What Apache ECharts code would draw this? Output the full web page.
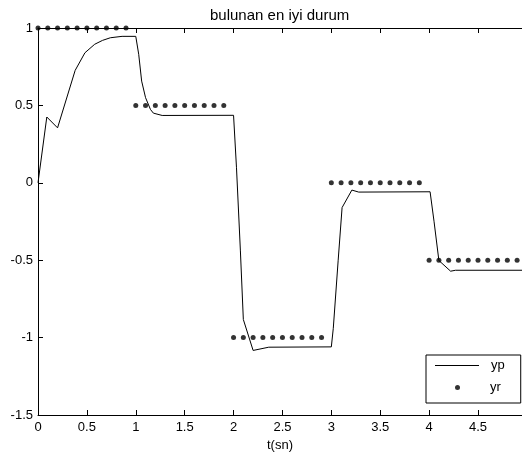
<!DOCTYPE html>
<html>
<head>
<meta charset="utf-8">
<script src="https://cdn.jsdelivr.net/npm/echarts@6/dist/echarts.min.js"></script>
<style>
  html, body { margin: 0; padding: 0; background: #fff; }
  #main { width: 522px; height: 459px; }
</style>
</head>
<body>
<div id="main"></div>
<script>
        // yp: plant output
        var ypTime = [0, 0.09, 0.2, 0.38, 0.48, 0.58, 0.66, 0.74, 0.86, 1.0,
            1.03, 1.06, 1.1, 1.15, 1.18, 1.27, 2.0,
            2.03, 2.07, 2.1, 2.2, 2.36, 3.0,
            3.02, 3.07, 3.11, 3.21, 3.28, 4.01,
            4.05, 4.1, 4.22, 4.27, 4.95];
        var ypValue = [0, 0.425, 0.355, 0.726, 0.84, 0.895, 0.92, 0.937, 0.946, 0.946,
            0.83, 0.657, 0.55, 0.474, 0.45, 0.435, 0.436,
            0.097, -0.44, -0.883, -1.083, -1.062, -1.06,
            -0.94, -0.5, -0.16, -0.047, -0.06, -0.058,
            -0.248, -0.502, -0.571, -0.565, -0.565];

        // yr: reference, one dot every 0.1 s
        var yrTime = [0, 0.1, 0.2, 0.3, 0.4, 0.5, 0.6, 0.7, 0.8, 0.9,
            1.0, 1.1, 1.2, 1.3, 1.4, 1.5, 1.6, 1.7, 1.8, 1.9,
            2.0, 2.1, 2.2, 2.3, 2.4, 2.5, 2.6, 2.7, 2.8, 2.9,
            3.0, 3.1, 3.2, 3.3, 3.4, 3.5, 3.6, 3.7, 3.8, 3.9,
            4.0, 4.1, 4.2, 4.3, 4.4, 4.5, 4.6, 4.7, 4.8, 4.9];
        var yrValue = [1, 1, 1, 1, 1, 1, 1, 1, 1, 1,
            0.5, 0.5, 0.5, 0.5, 0.5, 0.5, 0.5, 0.5, 0.5, 0.5,
            -1, -1, -1, -1, -1, -1, -1, -1, -1, -1,
            0, 0, 0, 0, 0, 0, 0, 0, 0, 0,
            -0.5, -0.5, -0.5, -0.5, -0.5, -0.5, -0.5, -0.5, -0.5, -0.5];

        var xTicks = [0, 0.5, 1, 1.5, 2, 2.5, 3, 3.5, 4, 4.5];
        var yTicks = [-1.5, -1, -0.5, 0, 0.5, 1];

        var titleText = 'bulunan en iyi durum';
        var xName = 't(sn)';

        function pairs(xs, ys) {
            return xs.map(function(x, i) { return [x, ys[i]]; });
        }

        var font = 'Arial, "Liberation Sans", sans-serif';
        var axisStyle = { color: '#000', width: 1 };

        var chart = echarts.init(document.getElementById('main'));
        chart.setOption({
            backgroundColor: '#fff',
            animation: false,
            title: {
                text: titleText,
                left: 205,
                top: 3,
                textStyle: { fontFamily: font, fontSize: 15, fontWeight: 'normal', color: '#000' }
            },
            grid: { left: 38, right: 0, top: 28, bottom: 44 },
            legend: [{
                // box + line entry
                data: ['yp'],
                left: 426,
                top: 355,
                orient: 'vertical',
                icon: 'rect',
                itemWidth: 44,
                itemHeight: 1,
                padding: [4, 16, 31, 9],
                borderColor: '#000',
                borderWidth: 1,
                borderRadius: 0,
                backgroundColor: '#fff',
                selectedMode: false,
                itemStyle: { borderWidth: 0 },
                textStyle: { fontFamily: font, fontSize: 13, color: '#000', padding: [0, 0, 0, 7] }
            }, {
                // dot entry, drawn inside the same box
                data: ['yr'],
                left: 426,
                top: 378,
                z: 10,
                orient: 'vertical',
                icon: 'circle',
                itemWidth: 5,
                itemHeight: 5,
                padding: [3, 16, 3, 29],
                selectedMode: false,
                itemStyle: { borderWidth: 0 },
                textStyle: { fontFamily: font, fontSize: 13, color: '#000', padding: [0, 0, 0, 25] }
            }],
            xAxis: [{
                type: 'value',
                position: 'bottom',
                min: 0,
                max: 4.95,
                interval: 0.5,
                name: xName,
                nameLocation: 'middle',
                nameGap: 22,
                nameTextStyle: { fontFamily: font, fontSize: 13, color: '#000' },
                axisLine: { show: true, onZero: false, lineStyle: axisStyle },
                axisTick: { show: true, inside: true, length: 5, lineStyle: axisStyle },
                axisLabel: {
                    margin: 6, showMaxLabel: false,
                    fontFamily: font, fontSize: 13, color: '#000',
                    formatter: function(v) { return xTicks.indexOf(v) >= 0 ? String(v) : ''; }
                },
                splitLine: { show: false }
            }, {
                type: 'value',
                position: 'top',
                min: 0,
                max: 4.95,
                interval: 0.5,
                axisLine: { show: true, onZero: false, lineStyle: axisStyle },
                axisTick: { show: true, inside: true, length: 5, lineStyle: axisStyle },
                axisLabel: { show: false },
                splitLine: { show: false }
            }],
            yAxis: {
                type: 'value',
                min: -1.5,
                max: 1,
                interval: 0.5,
                axisLine: { show: true, onZero: false, lineStyle: axisStyle },
                axisTick: { show: true, inside: true, length: 5, lineStyle: axisStyle },
                axisLabel: {
                    margin: 5,
                    fontFamily: font, fontSize: 13, color: '#000',
                    formatter: function(v) { return yTicks.indexOf(v) >= 0 ? String(v) : ''; }
                },
                splitLine: { show: false }
            },
            series: [{
                name: 'yp',
                type: 'line',
                data: pairs(ypTime, ypValue),
                showSymbol: false,
                symbol: 'none',
                color: '#000',
                lineStyle: { color: '#000', width: 1 },
                z: 2
            }, {
                name: 'yr',
                type: 'scatter',
                data: pairs(yrTime, yrValue),
                symbol: 'circle',
                symbolSize: 5,
                color: '#000',
                itemStyle: { color: '#000' },
                z: 3
            }]
        });
</script>
</body>
</html>
